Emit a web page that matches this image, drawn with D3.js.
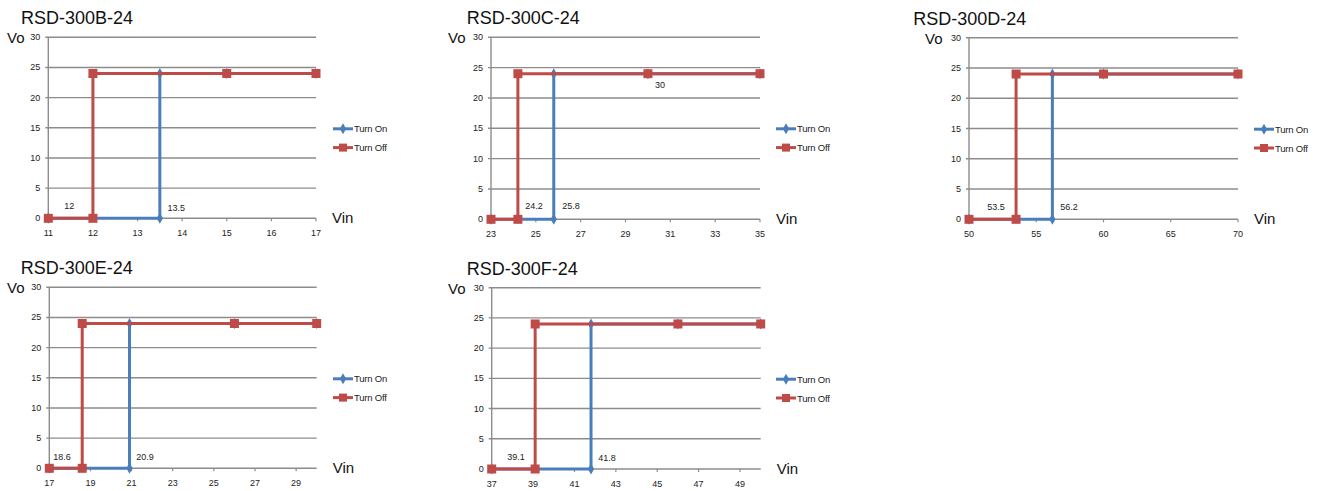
<!DOCTYPE html>
<html>
<head>
<meta charset="utf-8">
<script src="https://cdnjs.cloudflare.com/ajax/libs/d3/7.8.5/d3.min.js"></script>
<style>
  body { margin: 0; background: #fff; }
  text { font-family: "Liberation Sans", Arial, sans-serif; }
</style>
</head>
<body>
<script>
let width = 1319
let height = 491

// chart data
const titles = ["RSD-300B-24", "RSD-300C-24", "RSD-300D-24", "RSD-300E-24", "RSD-300F-24"]
const xDomains = [[11, 17], [23, 35], [50, 70], [17, 30], [37, 50]]
const xTicks = [
  [11, 12, 13, 14, 15, 16, 17],
  [23, 25, 27, 29, 31, 33, 35],
  [50, 55, 60, 65, 70],
  [17, 19, 21, 23, 25, 27, 29],
  [37, 39, 41, 43, 45, 47, 49]
]
const yTicks = [0, 5, 10, 15, 20, 25, 30]
const vout = 24
const turnOffV = [12, 24.2, 53.5, 18.6, 39.1]
const turnOnV = [13.5, 25.8, 56.2, 20.9, 41.8]
const midV = [15, 30, 60, 26, 46]
// data labels: [text, x, y] in chart units
const labels = [
  [["12", 11.47, 2.0], ["13.5", 13.87, 1.7]],
  [["24.2", 24.92, 2.2], ["25.8", 26.57, 2.2], ["30", 30.54, 22.1]],
  [["53.5", 52.0, 2.0], ["56.2", 57.43, 2.0]],
  [["18.6", 17.62, 1.9], ["20.9", 21.65, 1.9]],
  [["39.1", 38.17, 2.0], ["41.8", 42.57, 1.8]]
]
const seriesNames = ["Turn On", "Turn Off"]

// panel layout (pixels)
const layout = [
  {left: 48.3, right: 316, top: 37.3, bottom: 218.3, titleX: 21, voX: 7, legX: 333},
  {left: 491, right: 760, top: 37.3, bottom: 219.3, titleX: 466.7, voX: 448, legX: 776},
  {left: 969, right: 1238, top: 37.7, bottom: 219.3, titleX: 913.3, voX: 925, legX: 1254},
  {left: 49.3, right: 316.7, top: 287.3, bottom: 468.3, titleX: 20.7, voX: 7, legX: 333},
  {left: 491.7, right: 760.7, top: 287.7, bottom: 469, titleX: 466.7, voX: 448, legX: 776}
]

const blue = "#4a7ebb"
const red = "#be4b48"
const grid = "#8c8c8c"

const svg = d3.select("body")
  .append("svg")
  .attr("width", width)
  .attr("height", height)

titles.forEach(function(title, i) {
  const L = layout[i]
  const g = svg.append("g")

  const x = d3.scaleLinear().domain(xDomains[i]).range([L.left, L.right])
  const y = d3.scaleLinear().domain([0, 30]).range([L.bottom, L.top])

  // horizontal gridlines
  g.selectAll(".grid")
    .data(yTicks)
    .enter()
    .append("line")
      .attr("x1", L.left - 3)
      .attr("x2", L.right)
      .attr("y1", d => y(d))
      .attr("y2", d => y(d))
      .attr("stroke", grid)
      .attr("stroke-width", 1.4)

  // y axis line
  g.append("line")
    .attr("x1", L.left).attr("x2", L.left)
    .attr("y1", y(30)).attr("y2", y(0))
    .attr("stroke", grid)
    .attr("stroke-width", 1.4)

  // x tick marks
  g.selectAll(".xt")
    .data(xTicks[i])
    .enter()
    .append("line")
      .attr("x1", d => x(d)).attr("x2", d => x(d))
      .attr("y1", y(0)).attr("y2", y(0) + 3)
      .attr("stroke", grid)
      .attr("stroke-width", 1.2)

  // y tick labels
  g.selectAll(".yl")
    .data(yTicks)
    .enter()
    .append("text")
      .attr("x", L.left - 8)
      .attr("y", d => y(d) + 3)
      .attr("text-anchor", "end")
      .style("font-size", "9px")
      .attr("fill", "#222")
      .text(d => d)

  // x tick labels
  g.selectAll(".xl")
    .data(xTicks[i])
    .enter()
    .append("text")
      .attr("x", d => x(d))
      .attr("y", y(0) + 18)
      .attr("text-anchor", "middle")
      .style("font-size", "9px")
      .attr("fill", "#222")
      .text(d => d)

  const x0 = xDomains[i][0]
  const x1 = xDomains[i][1]
  const onPts = [[x0, 0], [turnOnV[i], 0], [turnOnV[i], vout], [midV[i], vout], [x1, vout]]
  const offPts = [[x0, 0], [turnOffV[i], 0], [turnOffV[i], vout], [midV[i], vout], [x1, vout]]

  const line = d3.line().x(d => x(d[0])).y(d => y(d[1]))

  g.append("path")
    .attr("d", line(onPts))
    .attr("fill", "none")
    .attr("stroke", blue)
    .attr("stroke-width", 3)

  g.selectAll(".on")
    .data(onPts)
    .enter()
    .append("path")
      .attr("d", d3.symbol().type(d3.symbolDiamond).size(34))
      .attr("transform", d => "translate(" + x(d[0]) + "," + y(d[1]) + ")")
      .attr("fill", blue)

  g.append("path")
    .attr("d", line(offPts))
    .attr("fill", "none")
    .attr("stroke", red)
    .attr("stroke-width", 3)

  g.selectAll(".off")
    .data(offPts)
    .enter()
    .append("rect")
      .attr("x", d => x(d[0]) - 4.5)
      .attr("y", d => y(d[1]) - 4.5)
      .attr("width", 9)
      .attr("height", 9)
      .attr("fill", red)

  // data labels
  g.selectAll(".dl")
    .data(labels[i])
    .enter()
    .append("text")
      .attr("x", d => x(d[1]))
      .attr("y", d => y(d[2]) + 3)
      .attr("text-anchor", "middle")
      .style("font-size", "9px")
      .attr("fill", "#222")
      .text(d => d[0])

  // title and axis names
  g.append("text")
    .attr("x", L.titleX)
    .attr("y", L.top - 13)
    .style("font-size", "18px")
    .attr("fill", "#111")
    .text(title)

  g.append("text")
    .attr("x", L.voX)
    .attr("y", L.top + 6)
    .style("font-size", "15px")
    .attr("fill", "#111")
    .text("Vo")

  g.append("text")
    .attr("x", L.right + 16)
    .attr("y", L.bottom + 5)
    .style("font-size", "15px")
    .attr("fill", "#111")
    .text("Vin")

  // legend
  const legY = [L.top + 91.5, L.top + 110.3]
  const leg = g.selectAll(".leg")
    .data(seriesNames)
    .enter()
    .append("g")
      .attr("transform", (d, j) => "translate(" + L.legX + "," + legY[j] + ")")

  leg.append("line")
    .attr("x1", 0).attr("x2", 20)
    .attr("stroke", (d, j) => j === 0 ? blue : red)
    .attr("stroke-width", 3)

  leg.append("path")
    .attr("d", (d, j) => j === 0
      ? d3.symbol().type(d3.symbolDiamond).size(34)()
      : d3.symbol().type(d3.symbolSquare).size(64)())
    .attr("transform", "translate(10,0)")
    .attr("fill", (d, j) => j === 0 ? blue : red)

  leg.append("text")
    .attr("x", 21)
    .attr("y", 3.5)
    .style("font-size", "9.5px")
    .style("letter-spacing", "-0.2px")
    .attr("fill", "#222")
    .text(d => d)
})
</script>
</body>
</html>
